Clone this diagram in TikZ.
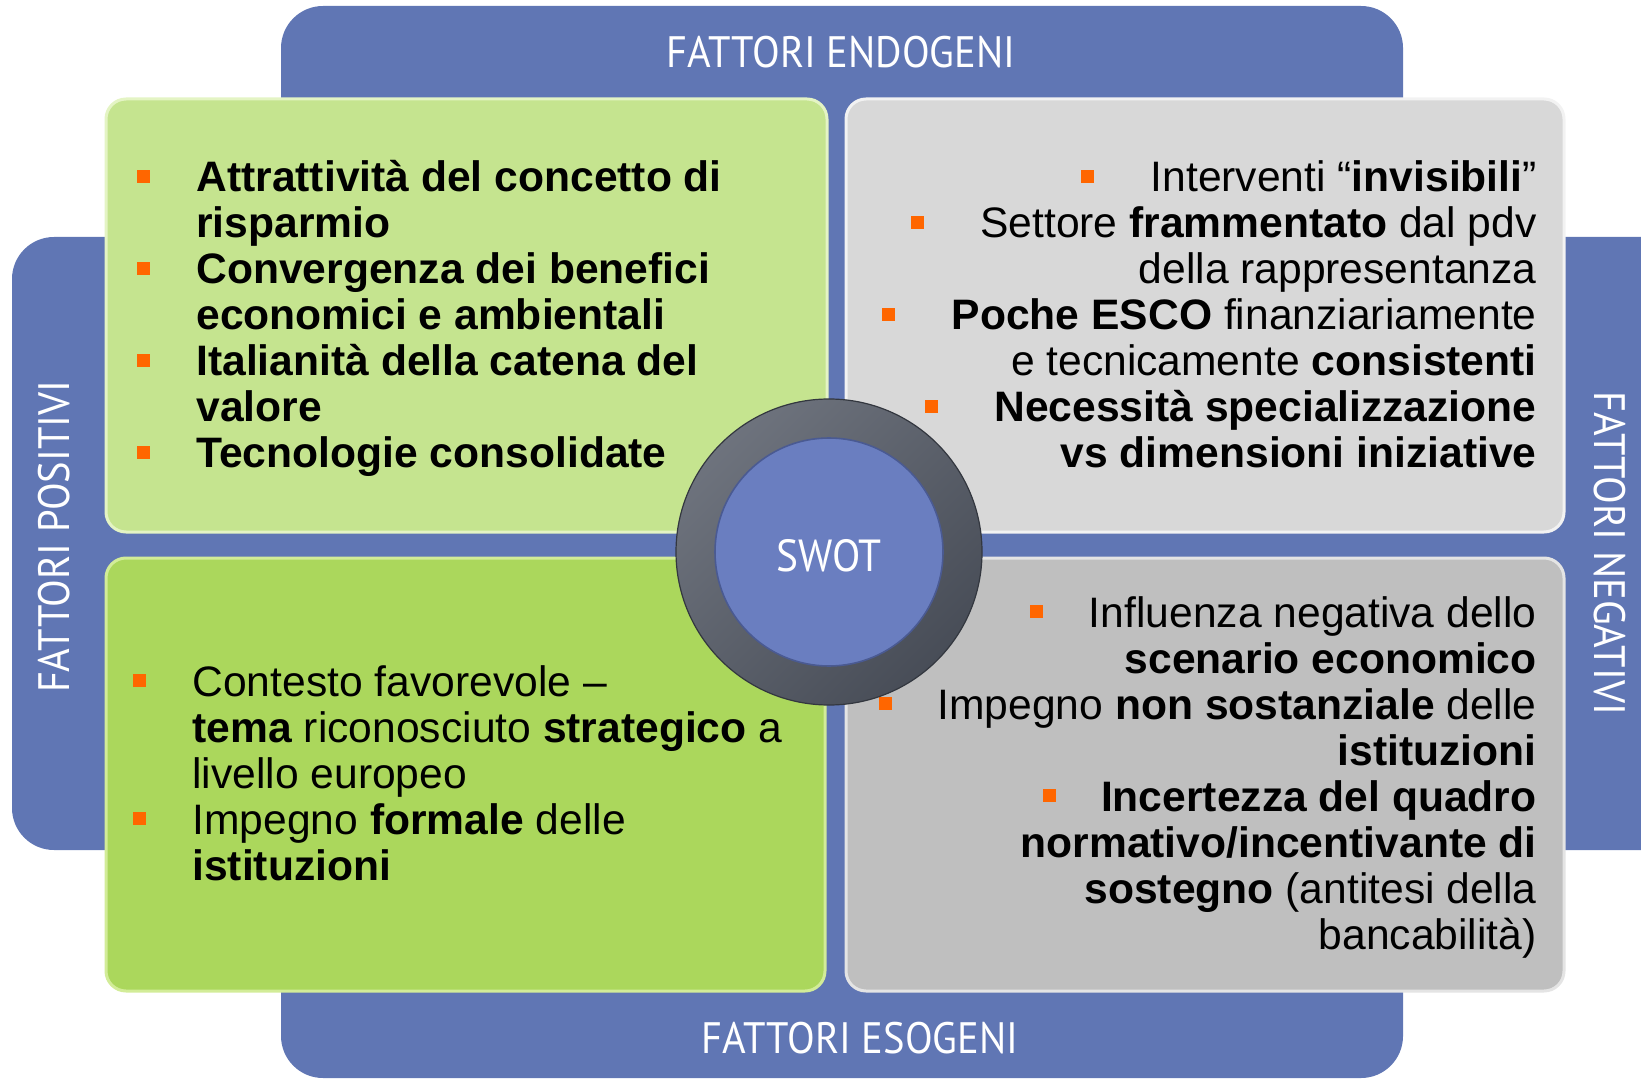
\documentclass[tikz,border=0pt]{standalone}
\usepackage{fontspec}
\setmainfont{Liberation Sans}
\newfontfamily\titlefont[FakeStretch=0.92]{PT Sans}
\definecolor{band}{HTML}{6076B4}
\definecolor{tlfill}{HTML}{C5E48F}
\definecolor{tlrim}{HTML}{E4F4C4}
\definecolor{blfill}{HTML}{ABD75C}
\definecolor{blrim}{HTML}{D2EC98}
\definecolor{trfill}{HTML}{D8D8D8}
\definecolor{trrim}{HTML}{F2F2F2}
\definecolor{brfill}{HTML}{BFBFBF}
\definecolor{brrim}{HTML}{E4E4E4}
\definecolor{bulorange}{HTML}{FF6600}
\definecolor{ringmid}{HTML}{555B67}
\definecolor{ringlight}{HTML}{6E7480}
\definecolor{ringdark}{HTML}{33373F}
\definecolor{swotblue}{HTML}{6A7EC0}
\definecolor{swotedge}{HTML}{4A5A92}
\pgfdeclareradialshading{ringshade}{\pgfpoint{0bp}{0bp}}{%
  color(0bp)=(ringmid); color(36bp)=(ringmid); color(38bp)=(ringdark);
  color(40bp)=(ringmid); color(44bp)=(ringlight); color(48bp)=(ringmid);
  color(50bp)=(ringdark)}
\newcommand{\bul}[1]{\llap{\textcolor{bulorange}{\rule[4.4pt]{6.5pt}{6.5pt}}\hspace{#1}}}
\begin{document}
\begin{tikzpicture}[x=0.5pt,y=-0.5pt,
  quad/.style={line width=1.5pt, rounded corners=10pt},
  title/.style={text=white, font=\titlefont\fontsize{22}{26}\selectfont, inner sep=0pt},
  body/.style={inner sep=0pt, font=\fontsize{21.3}{23}\selectfont}]
\useasboundingbox (0,0) rectangle (1641,1079);
% blue cross background
\begin{scope}
\clip (0,0) rectangle (1641,1079);
\fill[band, rounded corners=21pt] (281,6) rectangle (1403,1078);
\fill[band, rounded corners=21pt] (12,237) rectangle (1690,850);
\end{scope}
% quadrants
\filldraw[quad, fill=tlfill, draw=tlrim] (106,99) rectangle (827,532);
\filldraw[quad, fill=trfill, draw=trrim] (846,99) rectangle (1564,532);
\filldraw[quad, fill=blfill, draw=blrim] (106,558) rectangle (825,991);
\filldraw[quad, fill=brfill, draw=brrim] (846,558) rectangle (1564,991);
% titles
\node[title, anchor=base] (endo) at (841,68) {FATTORI ENDOGENI};
\node[title, anchor=base] (eso) at (860,1053) {FATTORI ESOGENI};
\node[title, anchor=base, rotate=90] (pos) at (69,537) {FATTORI POSITIVI};
\node[title, anchor=base, rotate=-90] (neg) at (1594,553) {FATTORI NEGATIVI};
% quadrant texts
\node[body, anchor=base west] (tl) at (196,192) {\begin{tabular}[t]{@{}l@{}}
\bul{23.25pt}\textbf{Attrattività del concetto di}\\
\textbf{risparmio}\\
\bul{23.25pt}\textbf{Convergenza dei benefici}\\
\textbf{economici e ambientali}\\
\bul{23.25pt}\textbf{Italianità della catena del}\\
\textbf{valore}\\
\bul{23.25pt}\textbf{Tecnologie consolidate}
\end{tabular}};
\node[body, anchor=base east] (tr) at (1537,192) {\begin{tabular}[t]{@{}r@{}}
\bul{28.25pt}Interventi “\textbf{invisibili}”\\
\bul{28.25pt}Settore \textbf{frammentato} dal pdv\\
della rappresentanza\\
\bul{28.25pt}\textbf{Poche ESCO} finanziariamente\\
e tecnicamente \textbf{consistenti}\\
\bul{28.25pt}\textbf{Necessità specializzazione}\\
\textbf{vs dimensioni iniziative}
\end{tabular}};
\node[body, anchor=base west] (bl) at (192,696) {\begin{tabular}[t]{@{}l@{}}
\bul{23.25pt}Contesto favorevole –\\
\textbf{tema} riconosciuto \textbf{strategico} a\\
livello europeo\\
\bul{23.25pt}Impegno \textbf{formale} delle\\
\textbf{istituzioni}
\end{tabular}};
\node[body, anchor=base east] (br) at (1537,627) {\begin{tabular}[t]{@{}r@{}}
\bul{22.75pt}Influenza negativa dello\\
\textbf{scenario economico}\\
\bul{22.75pt}Impegno \textbf{non sostanziale} delle\\
\textbf{istituzioni}\\
\bul{22.75pt}\textbf{Incertezza del quadro}\\
\textbf{normativo/incentivante di}\\
\textbf{sostegno} (antitesi della\\
bancabilità)
\end{tabular}};
% SWOT circle
\shade[shading=ringshade] (829,552) circle[radius=153];
\shade[top color=white, bottom color=black, shading angle=45, opacity=0.15] (829,552) circle[radius=153];
\draw[ringdark, line width=0.6pt] (829,552) circle[radius=153];
\filldraw[fill=swotblue, draw=swotedge, line width=0.8pt] (829,552) circle[radius=114];
\node[title, font=\titlefont\fontsize{22.5}{26}\selectfont, anchor=base] (swot) at (829,571) {SWOT};
\end{tikzpicture}
\end{document}
